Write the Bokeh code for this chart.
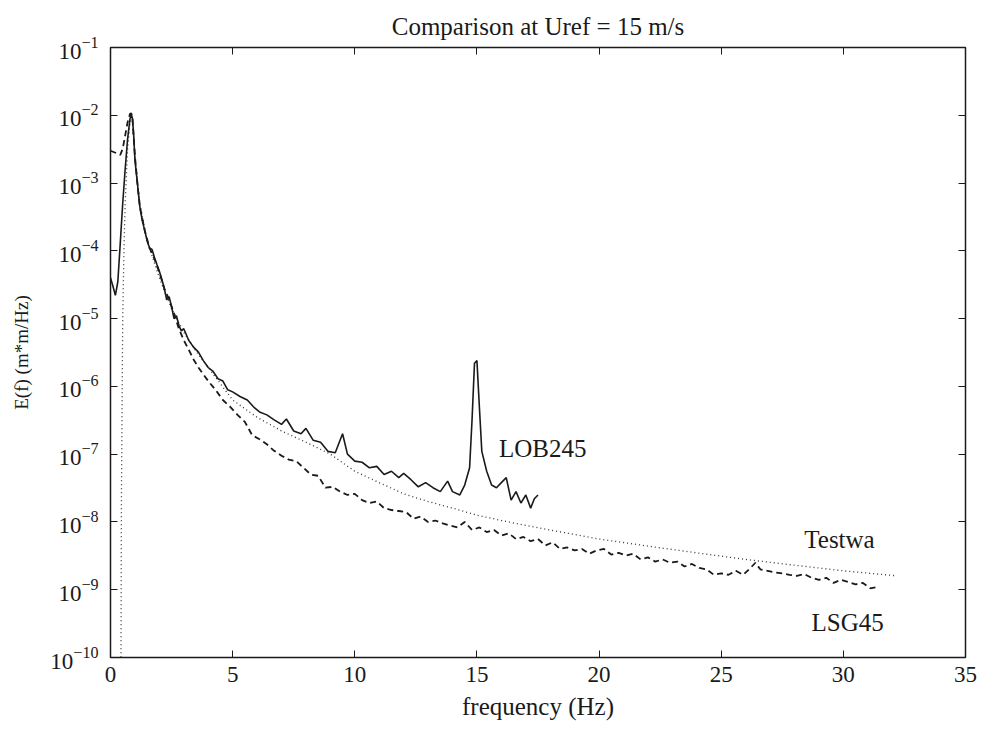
from bokeh.plotting import figure
from bokeh.models import LinearAxis, LogAxis, Label, FixedTicker
from bokeh.embed import file_html
from bokeh.resources import INLINE

# LOB245 (solid)
lob_f = [0.0, 0.1, 0.2, 0.3, 0.4, 0.5, 0.6, 0.7, 0.8, 0.85, 0.9, 0.95, 1.0, 1.1, 1.2, 1.3, 1.4, 1.5,
         1.6, 1.7, 1.8, 1.9, 2.0, 2.1, 2.2, 2.3, 2.4, 2.5, 2.6, 2.7, 2.8, 2.9, 3.0, 3.2, 3.4, 3.6, 3.8,
         4.0, 4.2, 4.4, 4.6, 4.8, 5.0, 5.3, 5.6, 5.9, 6.1, 6.4, 6.7, 7.0, 7.2, 7.5, 7.8, 8.0, 8.3, 8.6,
         8.9, 9.2, 9.5, 9.7, 10.0, 10.3, 10.6, 10.9, 11.2, 11.5, 11.8, 12.0, 12.3, 12.6, 12.9, 13.2,
         13.5, 13.8, 14.0, 14.3, 14.5, 14.7, 14.8, 14.9, 15.0, 15.1, 15.2, 15.4, 15.6, 15.8, 16.0,
         16.2, 16.4, 16.6, 16.8, 17.0, 17.2, 17.35, 17.5]
lob_e = [4.0e-5, 3.0e-5, 2.2e-5, 3.5e-5, 1.3e-4, 5.0e-4, 1.6e-3, 4.5e-3, 8.9e-3, 1.05e-2, 8.9e-3,
         5.0e-3, 2.2e-3, 1.0e-3, 4.5e-4, 2.8e-4, 2.0e-4, 1.4e-4, 1.1e-4, 1.05e-4, 8.0e-5, 6.3e-5,
         5.0e-5, 3.8e-5, 2.8e-5, 1.9e-5, 2.1e-5, 1.5e-5, 1.0e-5, 1.1e-5, 7.9e-6, 6.6e-6, 7.1e-6,
         4.8e-6, 3.8e-6, 3.2e-6, 2.4e-6, 1.9e-6, 1.66e-6, 1.3e-6, 1.2e-6, 8.9e-7, 8.3e-7, 7.1e-7,
         6.3e-7, 4.8e-7, 4.2e-7, 3.8e-7, 3.2e-7, 2.75e-7, 3.3e-7, 2.2e-7, 2.0e-7, 2.4e-7, 1.6e-7,
         1.5e-7, 1.1e-7, 1.05e-7, 2.0e-7, 1.0e-7, 7.9e-8, 7.6e-8, 6.3e-8, 6.6e-8, 5.0e-8, 5.6e-8,
         4.5e-8, 5.2e-8, 4.2e-8, 3.3e-8, 3.8e-8, 3.2e-8, 2.8e-8, 4.0e-8, 2.8e-8, 2.5e-8, 3.5e-8,
         6.3e-8, 3.2e-7, 2.2e-6, 2.4e-6, 5.0e-7, 1.1e-7, 5.6e-8, 3.5e-8, 3.2e-8, 3.8e-8, 4.5e-8,
         2.1e-8, 2.8e-8, 1.9e-8, 2.5e-8, 1.6e-8, 2.2e-8, 2.5e-8]

# LSG45 (dashed)
lsg_f = [0.0, 0.2, 0.4, 0.5, 0.6, 0.7, 0.8, 0.85, 0.9, 1.0, 1.1, 1.2, 1.4, 1.6, 1.8, 2.0, 2.2, 2.4,
         2.6, 2.8, 3.0, 3.2, 3.4, 3.6, 3.8, 4.0, 4.3, 4.6, 4.9, 5.2, 5.5, 5.8, 6.1, 6.4, 6.7, 7.0,
         7.3, 7.6, 7.9, 8.2, 8.5, 8.8, 9.1, 9.4, 9.7, 10.0, 10.3, 10.6, 10.9, 11.2, 11.5, 11.8, 12.1,
         12.4, 12.7, 13.0, 13.3, 13.6, 13.9, 14.2, 14.5, 14.8, 15.1, 15.4, 15.7, 16.0, 16.3, 16.6,
         16.9, 17.2, 17.5, 17.8, 18.1, 18.4, 18.7, 19.0, 19.3, 19.6, 19.9, 20.2, 20.5, 20.8, 21.1,
         21.4, 21.7, 22.0, 22.3, 22.6, 22.9, 23.2, 23.5, 23.8, 24.1, 24.4, 24.7, 25.0, 25.3, 25.6,
         25.9, 26.2, 26.4, 26.6, 26.9, 27.2, 27.5, 27.8, 28.1, 28.4, 28.7, 29.0, 29.3, 29.6, 29.9,
         30.2, 30.5, 30.8, 31.1, 31.4]
lsg_e = [3.0e-3, 2.8e-3, 2.6e-3, 3.2e-3, 5.0e-3, 7.9e-3, 1.05e-2, 1.07e-2, 8.9e-3, 2.5e-3, 1.0e-3,
         4.5e-4, 2.0e-4, 1.1e-4, 7.6e-5, 4.8e-5, 2.8e-5, 1.9e-5, 1.2e-5, 7.1e-6, 4.8e-6, 3.5e-6,
         2.5e-6, 1.9e-6, 1.5e-6, 1.2e-6, 8.9e-7, 6.3e-7, 5.0e-7, 3.8e-7, 3.0e-7, 1.9e-7, 1.66e-7,
         1.4e-7, 1.12e-7, 9.5e-8, 8.3e-8, 7.9e-8, 6.3e-8, 5.0e-8, 4.8e-8, 3.2e-8, 3.3e-8, 2.8e-8,
         2.5e-8, 2.6e-8, 2.1e-8, 1.9e-8, 2.0e-8, 1.6e-8, 1.5e-8, 1.45e-8, 1.4e-8, 1.12e-8, 1.2e-8,
         1.0e-8, 1.05e-8, 9.5e-9, 8.9e-9, 8.3e-9, 1.0e-8, 7.6e-9, 8.3e-9, 7.1e-9, 7.6e-9, 6.3e-9,
         6.8e-9, 5.6e-9, 6.0e-9, 5.2e-9, 5.6e-9, 4.5e-9, 5.0e-9, 4.0e-9, 4.2e-9, 3.8e-9, 4.0e-9,
         3.4e-9, 3.8e-9, 4.0e-9, 3.3e-9, 3.5e-9, 3.2e-9, 3.4e-9, 2.8e-9, 3.0e-9, 2.6e-9, 2.8e-9,
         2.5e-9, 2.6e-9, 2.2e-9, 2.4e-9, 2.1e-9, 2.0e-9, 1.66e-9, 1.74e-9, 1.66e-9, 1.9e-9,
         1.66e-9, 2.1e-9, 2.5e-9, 2.0e-9, 1.9e-9, 1.8e-9, 1.74e-9, 1.66e-9, 1.6e-9, 1.7e-9,
         1.5e-9, 1.4e-9, 1.5e-9, 1.26e-9, 1.4e-9, 1.3e-9, 1.2e-9, 1.26e-9, 1.05e-9, 1.1e-9]

# Testwa (dotted)
tw_f = [0.42, 0.45, 0.5, 0.55, 0.6, 0.7, 0.8, 0.85, 0.9, 1.0, 1.2, 1.5, 2.0, 2.5, 3.0, 3.5, 4.0,
        5.0, 6.0, 7.0, 8.0, 9.0, 10.0, 11.0, 12.0, 13.0, 14.0, 15.0, 16.0, 17.0, 18.0, 20.0, 22.0,
        24.0, 26.0, 28.0, 30.0, 32.2]
tw_e = [1.0e-11, 3.2e-8, 1.0e-5, 1.0e-4, 5.0e-4, 3.2e-3, 7.9e-3, 1.0e-2, 7.9e-3, 2.5e-3, 5.0e-4,
        1.4e-4, 4.0e-5, 1.4e-5, 6.3e-6, 3.3e-6, 1.9e-6, 6.3e-7, 3.5e-7, 2.2e-7, 1.5e-7, 1.0e-7,
        5.6e-8, 3.8e-8, 2.6e-8, 2.0e-8, 1.6e-8, 1.26e-8, 1.05e-8, 8.9e-9, 7.6e-9, 5.6e-9, 4.4e-9,
        3.5e-9, 2.8e-9, 2.3e-9, 1.9e-9, 1.6e-9]

x_ticks = [0, 5, 10, 15, 20, 25, 30, 35]
y_ticks = [1e-10, 1e-9, 1e-8, 1e-7, 1e-6, 1e-5, 1e-4, 1e-3, 1e-2, 1e-1]

FONT = "Liberation Serif"
INK = "#1a1a1a"

p = figure(width=983, height=744, y_axis_type="log", x_range=(0, 35), y_range=(1e-10, 1e-1),
           output_backend="svg", toolbar_location=None,
           min_border_left=110, min_border_right=18, min_border_top=47, min_border_bottom=87,
           title="Comparison at Uref = 15 m/s")
p.title.align = "center"
p.title.text_font = FONT
p.title.text_font_size = "25px"
p.title.text_font_style = "normal"
p.title.text_color = INK
p.title.standoff = 16
p.grid.visible = False
p.outline_line_color = INK
p.outline_line_width = 1.5
p.background_fill_color = "white"
p.border_fill_color = "white"

p.xaxis.ticker = FixedTicker(ticks=x_ticks)
p.yaxis.ticker = FixedTicker(ticks=y_ticks)
p.xaxis.axis_label = "frequency (Hz)"
p.yaxis.axis_label = "E(f) (m*m/Hz)"
for ax in [p.xaxis[0], p.yaxis[0]]:
    ax.major_tick_in = 7
    ax.major_tick_out = 0
    ax.minor_tick_in = 0
    ax.minor_tick_out = 0
    ax.axis_line_color = INK
    ax.major_tick_line_color = INK
    ax.major_label_text_font = FONT
    ax.major_label_text_font_size = "23px"
    ax.major_label_text_color = INK
    ax.axis_label_text_font = FONT
    ax.axis_label_text_font_style = "normal"
    ax.axis_label_text_color = INK
p.xaxis.axis_label_text_font_size = "25px"
p.yaxis.axis_label_text_font_size = "19px"
p.xaxis.major_label_standoff = 9
p.xaxis.axis_label_standoff = 8
p.yaxis.major_label_standoff = 12
p.yaxis.axis_label_standoff = 15

top = LinearAxis(ticker=FixedTicker(ticks=x_ticks),
                 major_tick_in=7, major_tick_out=0, minor_tick_in=0, minor_tick_out=0,
                 axis_line_color=INK, major_tick_line_color=INK)
right = LogAxis(ticker=FixedTicker(ticks=y_ticks),
                major_tick_in=7, major_tick_out=0, minor_tick_in=0, minor_tick_out=0,
                axis_line_color=INK, major_tick_line_color=INK)
top.major_label_text_alpha = 0
top.major_label_text_font_size = "1px"
right.major_label_text_alpha = 0
right.major_label_text_font_size = "1px"
p.add_layout(top, "above")
p.add_layout(right, "right")

p.line(tw_f, tw_e, line_color="#333333", line_width=1.3, line_dash="1 3")
p.line(lsg_f, lsg_e, line_color=INK, line_width=1.8, line_dash="6 4")
p.line(lob_f, lob_e, line_color=INK, line_width=1.6)

for txt, fx, ey in [("LOB245", 15.9, 1.2e-7), ("Testwa", 28.4, 5.5e-9), ("LSG45", 28.7, 3.3e-10)]:
    p.add_layout(Label(x=fx, y=ey, text=txt, text_font=FONT, text_font_size="25px",
                       text_color=INK, text_baseline="middle", text_align="left"))

open("out.html", "w").write(file_html(p, INLINE))
